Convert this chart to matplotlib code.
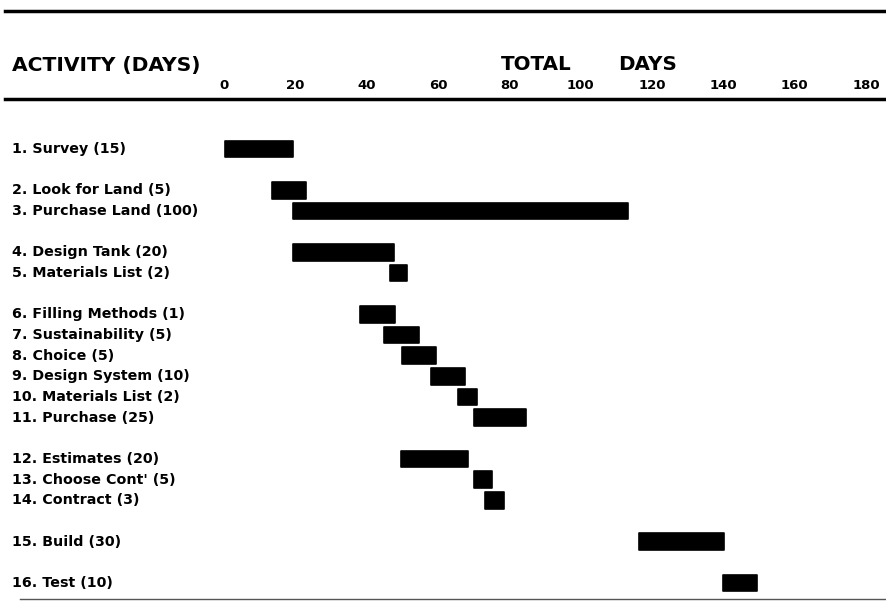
import matplotlib
matplotlib.use("Agg")
import matplotlib.pyplot as plt
from matplotlib.transforms import blended_transform_factory
from matplotlib.lines import Line2D

plt.rcParams['font.family'] = ['DejaVu Sans']

labels = ["1. Survey (15)", "2. Look for Land (5)", "3. Purchase Land (100)",
          "4. Design Tank (20)", "5. Materials List (2)",
          "6. Filling Methods (1)", "7. Sustainability (5)", "8. Choice (5)",
          "9. Design System (10)", "10. Materials List (2)", "11. Purchase (25)",
          "12. Estimates (20)", "13. Choose Cont' (5)", "14. Contract (3)",
          "15. Build (30)", "16. Test (10)"]
rows = [0, 2, 3, 5, 6, 8, 9, 10, 11, 12, 13, 15, 16, 17, 19, 21]
starts = [0.3, 13.5, 19.3, 19.3, 46.5, 38.1, 44.9, 49.9, 58.0, 65.6, 70.1,
          49.6, 70.1, 73.2, 116.3, 139.9]
ends = [19.3, 23.0, 113.3, 47.7, 51.3, 47.9, 54.7, 59.4, 67.6, 70.9, 84.7,
        68.4, 75.1, 78.5, 140.2, 149.4]
ticks = [0, 20, 40, 60, 80, 100, 120, 140, 160, 180]

W, H = 886, 601
fig = plt.figure(figsize=(W / 100, H / 100), dpi=100)
step = 20.67
top_px = 149 - step / 2
bot_px = 583 + step / 2
ax = fig.add_axes([224 / W, (H - bot_px) / H, 642 / W, (bot_px - top_px) / H])
ax.set_xlim(0, 180)
ax.set_ylim(21.5, -0.5)
for s in ax.spines.values():
    s.set_visible(False)
ax.set_yticks([])
ax.xaxis.tick_top()
ax.set_xticks(ticks)
ax.set_xticklabels([str(t) for t in ticks], fontsize=9.5, fontweight='bold')
ax.tick_params(axis='x', length=0, pad=33.5)
ax.patch.set_alpha(0)

durs = [e - s for s, e in zip(starts, ends)]
ax.barh(rows, durs, left=starts, height=0.8, color='black', edgecolor='black',
        linewidth=1.2, joinstyle='round')

tr = blended_transform_factory(fig.transFigure, ax.transData)
for r, lab in zip(rows, labels):
    ax.text(12 / W, r, lab, transform=tr, fontsize=10.3, fontweight='bold',
            va='center', ha='left')

fig.text(12 / W, 1 - 71 / H, "ACTIVITY (DAYS)", fontsize=14.6, fontweight='bold',
         va='baseline', ha='left')
fig.text(501 / W, 1 - 69.5 / H, "TOTAL", fontsize=14.3, fontweight='bold',
         va='baseline', ha='left')
fig.text(618 / W, 1 - 69.5 / H, "DAYS", fontsize=14.3, fontweight='bold',
         va='baseline', ha='left')

fig.add_artist(Line2D([0.006, 1], [1 - 11 / H, 1 - 11 / H], color='black',
                      lw=2.5, transform=fig.transFigure))
fig.add_artist(Line2D([0.006, 1], [1 - 99 / H, 1 - 99 / H], color='black',
                      lw=2.5, transform=fig.transFigure))
fig.add_artist(Line2D([20 / W, 1], [1 - 599 / H, 1 - 599 / H], color='#555555',
                      lw=1.0, transform=fig.transFigure))

fig.savefig("out.png", dpi=100)
